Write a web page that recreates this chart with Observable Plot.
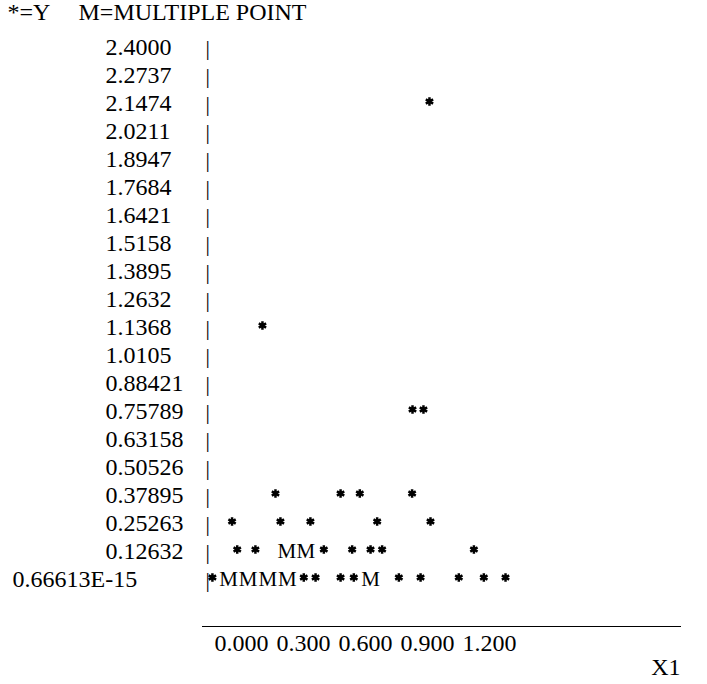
<!DOCTYPE html>
<html><head><meta charset="utf-8">
<script src="https://cdn.jsdelivr.net/npm/d3@7"></script>
<script src="https://cdn.jsdelivr.net/npm/@observablehq/plot@0.6"></script>
<style>body{margin:0;background:#fff}</style>
</head><body><div id="chart"></div>
<script>
// Row levels of the line-printer plot (top to bottom)
const yLevels = ["2.4000","2.2737","2.1474","2.0211","1.8947","1.7684","1.6421","1.5158","1.3895","1.2632","1.1368","1.0105","0.88421","0.75789","0.63158","0.50526","0.37895","0.25263","0.12632","0.66613E-15"];
const xTicks = [0, 0.3, 0.6, 0.9, 1.2];
const legendText = ["*=Y", "M=MULTIPLE POINT"];
const xLabel = "X1";

// Plotted characters: row, x value, glyph (* = single point, M = multiple point)
const pointRow = [
  "2.1474",
  "1.1368",
  "0.75789","0.75789",
  "0.37895","0.37895","0.37895","0.37895",
  "0.25263","0.25263","0.25263","0.25263","0.25263",
  "0.12632","0.12632","0.12632","0.12632","0.12632","0.12632","0.12632","0.12632","0.12632",
  "0.66613E-15","0.66613E-15","0.66613E-15","0.66613E-15","0.66613E-15","0.66613E-15","0.66613E-15","0.66613E-15","0.66613E-15","0.66613E-15","0.66613E-15","0.66613E-15","0.66613E-15","0.66613E-15","0.66613E-15"
];
const pointX = [
  1.04,
  0.232,
  0.958, 1.011,
  0.295, 0.61, 0.703, 0.956,
  0.085, 0.319, 0.464, 0.787, 1.045,
  0.11, 0.198, 0.35, 0.442, 0.529, 0.666, 0.755, 0.811, 1.255,
  -0.01, 0.068, 0.163, 0.258, 0.353, 0.432, 0.489, 0.61, 0.674, 0.755, 0.892, 0.997, 1.182, 1.303, 1.408
];
const pointGlyph = [
  "*",
  "*",
  "*","*",
  "*","*","*","*",
  "*","*","*","*","*",
  "*","*","M","M","*","*","*","*","*",
  "*","M","M","M","M","*","*","*","*","M","*","*","*","*","*"
];

const points = pointX.map((x, i) => ({x, row: pointRow[i], glyph: pointGlyph[i]}));
const stars = points.filter(d => d.glyph === "*");
const multis = points.filter(d => d.glyph === "M");
const font = "'Liberation Serif', 'Times New Roman', serif";

const chart = Plot.plot({
  width: 707, height: 684,
  marginLeft: 202, marginRight: 27, marginTop: 30, marginBottom: 58,
  style: {fontFamily: font, fontSize: "24px", color: "#000", background: "#fff"},
  x: {domain: [-0.058, 2.2545]},
  y: {type: "point", domain: yLevels, range: [46, 580], padding: 0},
  marks: [
    Plot.frame({anchor: "bottom", strokeWidth: 1, stroke: "#000"}),
    Plot.axisY(yLevels.slice(0, -1), {anchor: "left", tickSize: 0, tickPadding: 0, textAnchor: "start", dx: -97, label: null, fill: "#000"}),
    Plot.axisY(yLevels.slice(-1), {anchor: "left", tickSize: 0, tickPadding: 0, textAnchor: "start", dx: -190, label: null, fill: "#000"}),
    Plot.axisX(xTicks, {anchor: "bottom", tickSize: 0, tickPadding: 7, textAnchor: "start", tickFormat: d3.format(".3f"), label: null, fill: "#000"}),
    Plot.text(yLevels, {y: d => d, text: () => "|", frameAnchor: "left", dx: 3, fill: "#000", fontSize: 22}),
    Plot.dot(stars, {x: "x", y: "row", symbol: "asterisk", r: 4, stroke: "#000", strokeWidth: 2.5, dy: -2}),
    Plot.text(multis, {x: "x", y: "row", text: "glyph", fill: "#000", fontSize: 21}),
    Plot.text([legendText[0]], {frameAnchor: "top-left", lineAnchor: "middle", dx: -195, dy: -18, textAnchor: "start", fill: "#000"}),
    Plot.text([legendText[1]], {frameAnchor: "top-left", lineAnchor: "middle", dx: -124, dy: -18, textAnchor: "start", fill: "#000"}),
    Plot.text([xLabel], {frameAnchor: "bottom-right", lineAnchor: "middle", textAnchor: "end", dy: 41, fill: "#000"})
  ]
});
document.getElementById("chart").appendChild(chart);
</script>
</body></html>
